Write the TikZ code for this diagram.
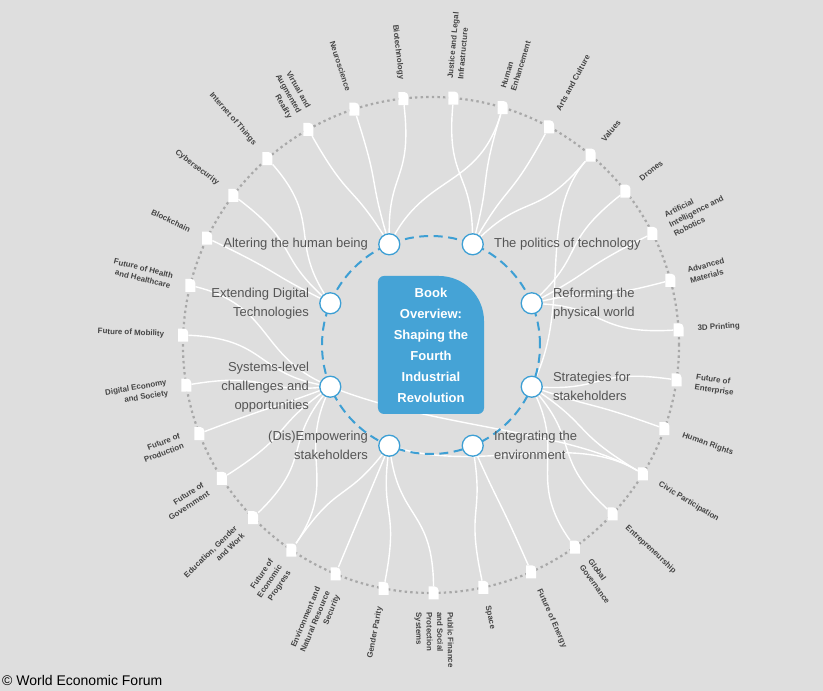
\documentclass[tikz,border=0pt]{standalone}
\usepackage{fontspec}
\setmainfont{Liberation Sans}
\usetikzlibrary{calc}
\definecolor{bgray}{HTML}{DEDEDE}
\definecolor{wefblue}{HTML}{3D9FD4}
\definecolor{boxblue}{HTML}{45A3D6}
\definecolor{ringgray}{HTML}{A8A8A8}
\definecolor{labgray}{HTML}{555555}
\definecolor{smallgray}{HTML}{444444}
\pgfdeclarelayer{back}
\pgfdeclarelayer{links}
\pgfsetlayers{back,links,main}
\def\pp{path picture bounding box}

\begin{document}
\begin{tikzpicture}[x=1bp,y=1bp,
    link/.style={white,line width=1.4bp},
    doc/.style={rectangle,inner sep=0pt,minimum width=10bp,minimum height=13bp,
        path picture={\fill[white] (\pp.south west) -- (\pp.north west) -- ([xshift=-4bp]\pp.north east)
            arc[start angle=90,end angle=0,radius=4bp] -- (\pp.south east) -- cycle;}},
    hub/.style={circle,draw=wefblue,fill=white,line width=1.3bp,minimum size=21bp,inner sep=0pt},
    hublab/.style={text=labgray,inner xsep=10bp,inner ysep=0pt,font=\fontsize{13bp}{19bp}\selectfont},
    outlab/.style={text=smallgray,inner sep=0pt,font=\fontsize{7.9bp}{10.5bp}\selectfont\bfseries},
    book/.style={rectangle,minimum width=106bp,minimum height=138bp,inner sep=0pt,align=center,text=white,
        font=\fontsize{13bp}{21bp}\selectfont\bfseries,
        path picture={\fill[boxblue] ([yshift=6bp]\pp.south west) -- ([yshift=-6bp]\pp.north west)
            arc[start angle=180,end angle=90,radius=6bp] -- ([xshift=-45bp]\pp.north east)
            arc[start angle=90,end angle=0,radius=45bp] -- ([yshift=6bp]\pp.south east)
            arc[start angle=0,end angle=-90,radius=6bp] -- ([xshift=6bp]\pp.south west)
            arc[start angle=270,end angle=180,radius=6bp] -- cycle;}}]

    \useasboundingbox (-431,-346) rectangle (392,345);
    \begin{pgfonlayer}{back}
    \fill[bgray] (-431,-346) rectangle (392,345);
    \draw[ringgray,line width=2.2bp,dash pattern=on 2.4bp off 3.2bp] (0,0) circle[radius=248];
    \end{pgfonlayer}

    \draw[wefblue,line width=2bp,dash pattern=on 9bp off 5.5bp] (0,0) circle[radius=109];
    \node[book] (book) at (0,0) {Book\\Overview:\\Shaping the\\Fourth\\Industrial\\Revolution};

    \node[hub,label={[hublab,align=left]east:The politics of technology}] (polit) at (67.5:109) {};
    \node[hub,label={[hublab,align=right]west:Altering the human being}] (alter) at (112.5:109) {};
    \node[hub,label={[hublab,align=right]west:Extending Digital\\Technologies}] (extend) at (157.5:109) {};
    \node[hub,label={[hublab,align=right]west:Systems-level\\challenges and\\opportunities}] (system) at (202.5:109) {};
    \node[hub,label={[hublab,align=right]west:(Dis)Empowering\\stakeholders}] (empow) at (247.5:109) {};
    \node[hub,label={[hublab,align=left]east:Integrating the\\environment}] (integ) at (292.5:109) {};
    \node[hub,label={[hublab,align=left]east:Strategies for\\stakeholders}] (strat) at (337.5:109) {};
    \node[hub,label={[hublab,align=left]east:Reforming the\\physical world}] (reform) at (22.5:109) {};

    \foreach \txt [count=\n from 0] in {{Justice and Legal\\Infrastructure},{Human\\Enhancement},{Arts and Culture},
        {Values},{Drones},{Artificial\\Intelligence and\\Robotics},{Advanced\\Materials},{3D Printing},
        {Future of\\Enterprise},{Human Rights},{Civic Participation},{Entrepreneurship},{Global\\Governance},
        {Future of Energy},{Space},{Public Finance\\and Social\\Protection\\Systems},{Gender Parity},
        {Environment and\\Natural Resource\\Security},{Future of\\Economic\\Progress},{Education, Gender\\and Work},
        {Future of\\Government},{Future of\\Production},{Digital Economy\\and Society},{Future of Mobility},
        {Future of Health\\and Healthcare},{Blockchain},{Cybersecurity},{Internet of Things},
        {Virtual and\\Augmented\\Reality},{Neuroscience},{Biotechnology}}{
        \pgfmathsetmacro\a{84.8-\n*360/31}
        \pgfmathtruncatemacro\rside{cos(\a)>0}
        \node[doc] (o\n) at (\a:248) {};
        \ifnum\rside=1
            \node[outlab,rotate=\a,anchor=west,align=left] (t\n) at (\a:267) {\txt};
        \else
            \node[outlab,rotate=\a+180,anchor=east,align=right] (t\n) at (\a:267) {\txt};
        \fi
    }

    \begin{pgfonlayer}{links}
    \foreach \ou/\hb in {28/alter,29/alter,30/alter,1/alter,0/polit,1/polit,2/polit,3/polit,
        4/reform,5/reform,6/reform,7/reform,3/strat,8/strat,9/strat,10/strat,11/strat,12/strat,
        13/integ,14/integ,10/empow,15/empow,16/empow,17/empow,18/empow,
        10/system,18/system,19/system,20/system,21/system,22/system,23/system,24/system,
        25/extend,26/extend,27/extend}
        \draw[link] (o\ou) .. controls ($(o\ou)!0.33!(book)$) and ($(\hb)!0.4!(o\ou)+0.15*(\hb)$) .. (\hb);
    \end{pgfonlayer}

    \node[anchor=base west,inner sep=0pt,font=\fontsize{14bp}{16bp}\selectfont] (copy) at (-429,-340) {© World Economic Forum};
\end{tikzpicture}
\end{document}
